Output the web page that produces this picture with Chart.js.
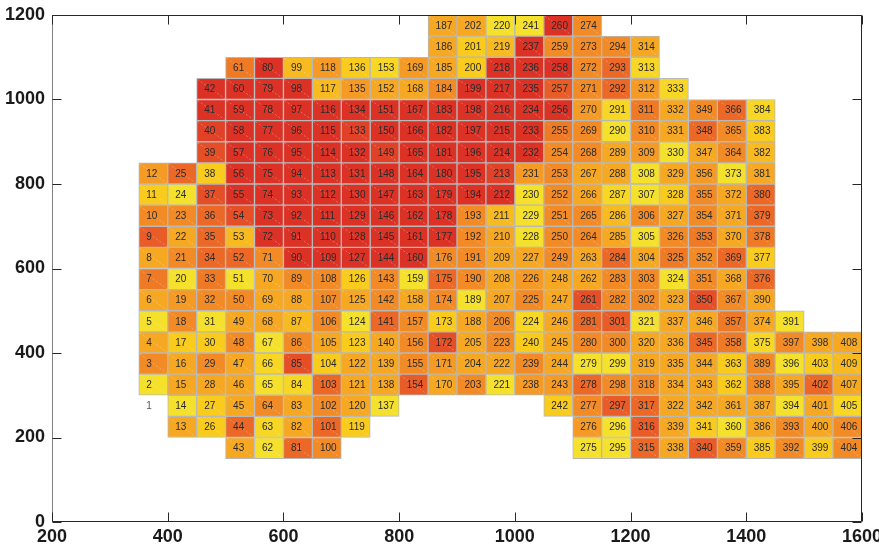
<!DOCTYPE html>
<html>
<head>
<meta charset="utf-8">
<script src="https://cdn.jsdelivr.net/npm/chart.js@4.4.0/dist/chart.umd.min.js"></script>
<style>
  html, body { margin: 0; padding: 0; background: #fff; }
</style>
</head>
<body>
<canvas id="grid" width="879" height="549"></canvas>
<script>
// column centres (x) and row extents (y), top row first
const columnX = [375, 425, 475, 525, 575, 625, 675, 725, 775, 825, 875, 925, 975,
                 1025, 1075, 1125, 1175, 1225, 1275, 1325, 1375, 1425, 1475, 1525, 1575];
const rowBottom = [1150, 1100, 1050, 1000, 950, 900, 850, 800, 750, 700, 650,
                   600, 550, 500, 450, 400, 350, 300, 250, 200, 150];
const rowTop = [1200, 1150, 1100, 1050, 1000, 950, 900, 850, 800, 750, 700,
                650, 600, 550, 500, 450, 400, 350, 300, 250, 200];

// cell numbers, 0 = no cell
const cellIds = [
  [0,0,0,0,0,0,0,0,0,0,187,202,220,241,260,274,0,0,0,0,0,0,0,0,0],
  [0,0,0,0,0,0,0,0,0,0,186,201,219,237,259,273,294,314,0,0,0,0,0,0,0],
  [0,0,0,61,80,99,118,136,153,169,185,200,218,236,258,272,293,313,0,0,0,0,0,0,0],
  [0,0,42,60,79,98,117,135,152,168,184,199,217,235,257,271,292,312,333,0,0,0,0,0,0],
  [0,0,41,59,78,97,116,134,151,167,183,198,216,234,256,270,291,311,332,349,366,384,0,0,0],
  [0,0,40,58,77,96,115,133,150,166,182,197,215,233,255,269,290,310,331,348,365,383,0,0,0],
  [0,0,39,57,76,95,114,132,149,165,181,196,214,232,254,268,289,309,330,347,364,382,0,0,0],
  [12,25,38,56,75,94,113,131,148,164,180,195,213,231,253,267,288,308,329,356,373,381,0,0,0],
  [11,24,37,55,74,93,112,130,147,163,179,194,212,230,252,266,287,307,328,355,372,380,0,0,0],
  [10,23,36,54,73,92,111,129,146,162,178,193,211,229,251,265,286,306,327,354,371,379,0,0,0],
  [9,22,35,53,72,91,110,128,145,161,177,192,210,228,250,264,285,305,326,353,370,378,0,0,0],
  [8,21,34,52,71,90,109,127,144,160,176,191,209,227,249,263,284,304,325,352,369,377,0,0,0],
  [7,20,33,51,70,89,108,126,143,159,175,190,208,226,248,262,283,303,324,351,368,376,0,0,0],
  [6,19,32,50,69,88,107,125,142,158,174,189,207,225,247,261,282,302,323,350,367,390,0,0,0],
  [5,18,31,49,68,87,106,124,141,157,173,188,206,224,246,281,301,321,337,346,357,374,391,0,0],
  [4,17,30,48,67,86,105,123,140,156,172,205,223,240,245,280,300,320,336,345,358,375,397,398,408],
  [3,16,29,47,66,85,104,122,139,155,171,204,222,239,244,279,299,319,335,344,363,389,396,403,409],
  [2,15,28,46,65,84,103,121,138,154,170,203,221,238,243,278,298,318,334,343,362,388,395,402,407],
  [1,14,27,45,64,83,102,120,137,0,0,0,0,0,242,277,297,317,322,342,361,387,394,401,405],
  [0,13,26,44,63,82,101,119,0,0,0,0,0,0,0,276,296,316,339,341,360,386,393,400,406],
  [0,0,0,43,62,81,100,0,0,0,0,0,0,0,0,275,295,315,338,340,359,385,392,399,404]
];

// shade level per cell: 1 = yellow ... 7 = red, 0 = blank
const cellShades = [
  [0,0,0,0,0,0,0,0,0,0,3,3,1,1,7,4,0,0,0,0,0,0,0,0,0],
  [0,0,0,0,0,0,0,0,0,0,3,2,2.5,7,4,4,4,3,0,0,0,0,0,0,0],
  [0,0,0,4.5,7,2.5,3.5,2,1.5,3.5,3,2,7,7,7,4,5,1.5,0,0,0,0,0,0,0],
  [0,0,7,7,7,7,2.5,3.5,3,3,4,7,7,7,5.5,4,5,3.5,1.5,0,0,0,0,0,0],
  [0,0,7,7,7,7,7,7,7,7,7,7,7,7,7,3.5,1.5,4.5,3,4,5,1.5,0,0,0],
  [0,0,6.5,7,7,7,7,6.5,7,7,7,7,7,7,4.5,4,1,4,3,5,4,2,0,0,0],
  [0,0,6,7,7,7,7,7,6.5,7,7,7,7,7,4,4,3,3.5,1,3,4,2.5,0,0,0],
  [3.5,5,2,7,7,7,7,7,7,7,7,7,6.5,3.5,4,3,3,1,3,3.5,1,3,0,0,0],
  [2,1,6,7,7,7,7,7,7,7,7,7,7,1,4,3,1.5,1,2,4,3,5,0,0,0],
  [4,4,5,6,7,7,7,7,7,7,7,4,2.5,1,4,4,2.5,4,3,4,3,5,0,0,0],
  [5.5,3,5,2.5,7,7,7,7,7,7,7,4,3,1,4,4,3,1,4,4.5,3,4.5,0,0,0],
  [3,4,5,5,4,7,7,7,7,7,4,4,3,3,4,3,5,3,4.5,4,5,2,0,0,0],
  [4.5,1,4.5,1,3,4,4,2,4,1,5,4,3,3.5,3,3,4,4,1,4,3,5,0,0,0],
  [3,3.5,4,4,3,3,4,3,4,3,4,1,3,4,3,6,4,4,3,6,4,3,0,0,0],
  [1,4,1,3,3,2.5,4,1,5,4,2,3,4,1.5,3,5,5.5,1,3,3,4.5,3,1,0,0],
  [3,2,2,4,1,4,3,2,3,4,6,3,4,2,3,4,4,3,3,5,4.5,1.5,4,3,3],
  [4,3,4,3,1.5,6,2,3,3,4,3.5,3,3,4,3,1,1,3,3,3,2,4,1,2,2.5],
  [1,3,3,3,1,1.5,5,3,3,5.5,3,4,1,3.5,3.5,5,4,4,3,3,2,4,3,5,3],
  [0,1,2,3,4,3,4,3,1,0,0,0,0,0,2,4,5.5,5,3,3,3,3,1,3,1.5],
  [0,3,2,5,1.5,3,5,2,0,0,0,0,0,0,0,3.5,1,5.5,3,2,1,3,4,3,4],
  [0,0,0,3,1,5,4,0,0,0,0,0,0,0,0,1,1,5,3,5.5,4,2,4,2,4]
];

const xTickValues = [200, 400, 600, 800, 1000, 1200, 1400, 1600];
const yTickValues = [0, 200, 400, 600, 800, 1000, 1200];

// yellow -> red ramp, index = shade level
const ramp = [
  [255, 255, 255],
  [245, 225, 43],
  [248, 203, 28],
  [246, 168, 35],
  [242, 139, 38],
  [236, 104, 38],
  [229, 79, 40],
  [220, 50, 38]
];

function shadeColor(s) {
  if (s <= 0) return '#ffffff';
  const lo = Math.floor(s), hi = Math.min(7, lo + 1), t = s - lo;
  const c = ramp[lo].map((v, k) => Math.round(v + (ramp[hi][k] - v) * t));
  return 'rgb(' + c.join(',') + ')';
}

const cells = [];
cellIds.forEach((row, r) => {
  row.forEach((id, c) => {
    if (!id) return;
    cells.push({ x: columnX[c], y: [rowBottom[r], rowTop[r]], id: id, shade: cellShades[r][c] });
  });
});

const tickFont = { family: '"Liberation Sans", Arial, sans-serif', size: 18, weight: 'bold' };

// number in each cell plus the faint diagonal seam
const cellText = {
  id: 'cellText',
  afterDatasetsDraw(chart) {
    const ctx = chart.ctx;
    const meta = chart.getDatasetMeta(0);
    const data = chart.data.datasets[0].data;
    ctx.save();
    ctx.font = '10px "Liberation Sans", Arial, sans-serif';
    ctx.textBaseline = 'middle';
    ctx.textAlign = 'left';
    meta.data.forEach((bar, i) => {
      const p = data[i];
      const left = bar.x - bar.width / 2, right = bar.x + bar.width / 2;
      const top = Math.min(bar.y, bar.base), bottom = Math.max(bar.y, bar.base);
      if (p.shade > 0) {
        ctx.strokeStyle = 'rgba(255,255,255,0.4)';
        ctx.lineWidth = 0.7;
        ctx.setLineDash([2, 2]);
        ctx.beginPath();
        ctx.moveTo(left + 1, top + 1);
        ctx.lineTo(right - 1, bottom - 1);
        ctx.stroke();
        ctx.setLineDash([]);
      }
      ctx.fillStyle = p.shade > 0 ? '#2a2a2a' : '#555555';
      ctx.fillText(String(p.id), left + bar.width * 0.26, (top + bottom) / 2 + 0.5);
    });
    ctx.restore();
  }
};

// axes box with inward tick marks on all four sides
const frame = {
  id: 'frame',
  afterDraw(chart) {
    const { ctx, chartArea: a, scales } = chart;
    const L = Math.round(a.left) + 0.5, R = Math.round(a.right) - 0.5;
    const T = Math.round(a.top) + 0.5, B = Math.round(a.bottom) - 0.5;
    ctx.save();
    ctx.lineWidth = 1;
    ctx.strokeStyle = '#262626';
    ctx.beginPath();
    ctx.moveTo(L, T); ctx.lineTo(R, T); ctx.lineTo(R, B); ctx.lineTo(L, B);
    ctx.stroke();
    ctx.strokeStyle = '#808080';
    ctx.beginPath();
    ctx.moveTo(L, T + 6); ctx.lineTo(L, B - 6);
    ctx.stroke();
    ctx.strokeStyle = '#262626';
    ctx.beginPath();
    ctx.moveTo(L, T); ctx.lineTo(L, T + 6);
    ctx.moveTo(L, B - 6); ctx.lineTo(L, B);
    ctx.stroke();
    ctx.beginPath();
    xTickValues.forEach(v => {
      const px = Math.round(scales.x.getPixelForValue(v)) + 0.5;
      ctx.moveTo(px, B); ctx.lineTo(px, B - 9);
      ctx.moveTo(px, T); ctx.lineTo(px, T + 9);
    });
    yTickValues.forEach(v => {
      const py = Math.round(scales.y.getPixelForValue(v)) + 0.5;
      ctx.moveTo(L, py); ctx.lineTo(L + 9, py);
      ctx.moveTo(R, py); ctx.lineTo(R - 9, py);
    });
    ctx.stroke();
    ctx.restore();
  }
};

new Chart(document.getElementById('grid'), {
  type: 'bar',
  data: {
    datasets: [{
      data: cells,
      backgroundColor: cells.map(p => shadeColor(p.shade)),
      borderColor: cells.map(p => p.shade > 0 ? '#b8b8b8' : 'rgba(0,0,0,0)'),
      borderWidth: 1,
      borderSkipped: false,
      barPercentage: 1,
      categoryPercentage: 1
    }]
  },
  options: {
    responsive: false,
    animation: false,
    devicePixelRatio: 1,
    layout: { padding: { top: 15, right: 17, left: 0, bottom: 0 } },
    plugins: { legend: { display: false }, tooltip: { enabled: false } },
    scales: {
      x: {
        type: 'linear',
        min: 200,
        max: 1600,
        offset: false,
        grid: { display: false, drawTicks: false, offset: false },
        border: { display: false },
        afterBuildTicks: s => { s.ticks = xTickValues.map(v => ({ value: v })); },
        afterFit: s => { s.height = 27; s.paddingLeft = 0; s.paddingRight = 0; },
        ticks: { font: tickFont, color: '#1a1a1a', padding: 4, maxRotation: 0, autoSkip: false,
                 callback: v => String(v) }
      },
      y: {
        type: 'linear',
        min: 0,
        max: 1200,
        grid: { display: false, drawTicks: false },
        border: { display: false },
        afterBuildTicks: s => { s.ticks = yTickValues.map(v => ({ value: v })); },
        afterFit: s => { s.width = 52; s.paddingTop = 0; s.paddingBottom = 0; },
        ticks: { font: tickFont, color: '#1a1a1a', padding: 7, callback: v => String(v) }
      }
    }
  },
  plugins: [cellText, frame]
});
</script>
</body>
</html>
